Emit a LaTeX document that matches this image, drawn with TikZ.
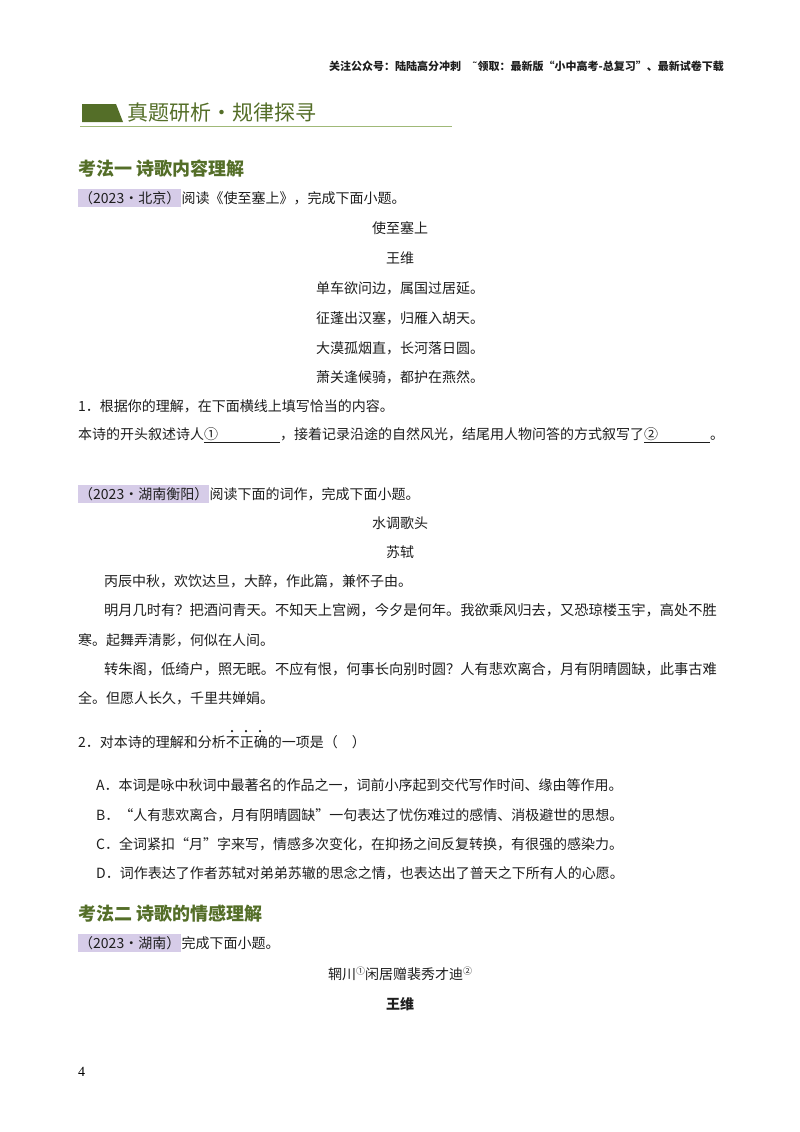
\documentclass[tikz,border=0pt]{standalone}
\usepackage{fontspec}
\setmainfont{Noto Sans CJK SC}
\newfontfamily\numfont{Liberation Serif}
\newfontfamily\djv{DejaVu Sans}
\definecolor{tgreen}{RGB}{84,110,40}
\definecolor{lgreen}{RGB}{160,185,120}
\definecolor{tagp}{RGB}{214,204,232}
\definecolor{txt}{RGB}{30,30,30}
\tikzset{
 x=1pt,y=-1pt,
 body/.style={anchor=west,inner sep=0pt,font=\fontsize{14}{14}\selectfont,text=txt},
 cbody/.style={anchor=center,inner sep=0pt,font=\fontsize{14}{14}\selectfont,text=txt},
 head/.style={anchor=west,inner sep=0pt,font=\fontsize{18}{18}\selectfont\bfseries,text=tgreen},
 tag/.style={anchor=west,inner xsep=1pt,inner ysep=2pt,fill=tagp,font=\fontsize{14}{14}\selectfont,text=txt},
 emdot/.style={circle,fill=txt,inner sep=0pt,minimum size=2.5pt}
}
\begin{document}
\begin{tikzpicture}
\useasboundingbox (0,0) rectangle (800,1132);
\fill[white] (0,0) rectangle (800,1132);
\node[anchor=east,inner sep=0pt,font=\fontsize{11}{11}\selectfont\bfseries,text=txt] (hdr) at (724,66) {关注公众号：陆陆高分冲刺\quad {\djv ˜}领取：最新版“小中高考-总复习”、最新试卷下载};
% title bar
\fill[tgreen] (82,104) -- (116,104) -- (123,122) -- (82,122) -- cycle;
\node[anchor=west,inner sep=0pt,font=\fontsize{21}{21}\selectfont,text=tgreen] (bar) at (127,113) {真题研析·规律探寻};
\draw[lgreen,line width=1pt] (80,126) -- (452,126);
% section 1
\node[head] (h1) at (78,169) {考法一\ 诗歌内容理解};
\node[tag] (t1) at (78,198) {（2023·北京）};
\node[body] (t1b) at (t1.east) {阅读《使至塞上》，完成下面小题。};
\node[cbody] (p1) at (400,228) {使至塞上};
\node[cbody] (p2) at (400,258) {王维};
\node[cbody] (p3) at (400,288) {单车欲问边，属国过居延。};
\node[cbody] (p4) at (400,318) {征蓬出汉塞，归雁入胡天。};
\node[cbody] (p5) at (400,348) {大漠孤烟直，长河落日圆。};
\node[cbody] (p6) at (400,377) {萧关逢候骑，都护在燕然。};
\node[body] (q1) at (78,406) {1．根据你的理解，在下面横线上填写恰当的内容。};
\node[body] (q1b) at (78,435) {本诗的开头叙述诗人\underline{①\hspace{62pt}}，接着记录沿途的自然风光，结尾用人物问答的方式叙写了\underline{②\hspace{52pt}}。};
% section 1b
\node[tag] (t2) at (78,494) {（2023·湖南衡阳）};
\node[body] (t2b) at (t2.east) {阅读下面的词作，完成下面小题。};
\node[cbody] (s1) at (400,523) {水调歌头};
\node[cbody] (s2) at (400,552) {苏轼};
\node[body] (s3) at (104,581) {丙辰中秋，欢饮达旦，大醉，作此篇，兼怀子由。};
\node[body,font=\fontsize{14.25}{14}\selectfont] (s4) at (104,610) {明月几时有？把酒问青天。不知天上宫阙，今夕是何年。我欲乘风归去，又恐琼楼玉宇，高处不胜};
\node[body] (s5) at (78,640) {寒。起舞弄清影，何似在人间。};
\node[body,font=\fontsize{14.25}{14}\selectfont] (s6) at (104,669) {转朱阁，低绮户，照无眠。不应有恨，何事长向别时圆？人有悲欢离合，月有阴晴圆缺，此事古难};
\node[body] (s7) at (78,698) {全。但愿人长久，千里共婵娟。};
\node[body] (q2) at (78,742) {2．对本诗的理解和分析不正确的一项是（\quad）};
\node[emdot] (d1) at (232,731) {};
\node[emdot] (d2) at (246,731) {};
\node[emdot] (d3) at (260,731) {};
\node[body] (oA) at (96,785) {A．本词是咏中秋词中最著名的作品之一，词前小序起到交代写作时间、缘由等作用。};
\node[body] (oB) at (96,815) {B．“人有悲欢离合，月有阴晴圆缺”一句表达了忧伤难过的感情、消极避世的思想。};
\node[body] (oC) at (96,844) {C．全词紧扣“月”字来写，情感多次变化，在抑扬之间反复转换，有很强的感染力。};
\node[body] (oD) at (96,873) {D．词作表达了作者苏轼对弟弟苏辙的思念之情，也表达出了普天之下所有人的心愿。};
% section 2
\node[head] (h2) at (78,914) {考法二\ 诗歌的情感理解};
\node[tag] (t3) at (78,943) {（2023·湖南）};
\node[body] (t3b) at (t3.east) {完成下面小题。};
\node[cbody] (w1) at (400,974) {辋川\raisebox{5pt}{\fontsize{9}{9}\selectfont ①}闲居赠裴秀才迪\raisebox{5pt}{\fontsize{9}{9}\selectfont ②}};
\node[cbody,font=\fontsize{14}{14}\selectfont\bfseries] (w2) at (400,1004) {王维};
\node[anchor=west,inner sep=0pt,font=\numfont\fontsize{14}{14}\selectfont] (pg) at (78,1072) {4};
\end{tikzpicture}
\end{document}
